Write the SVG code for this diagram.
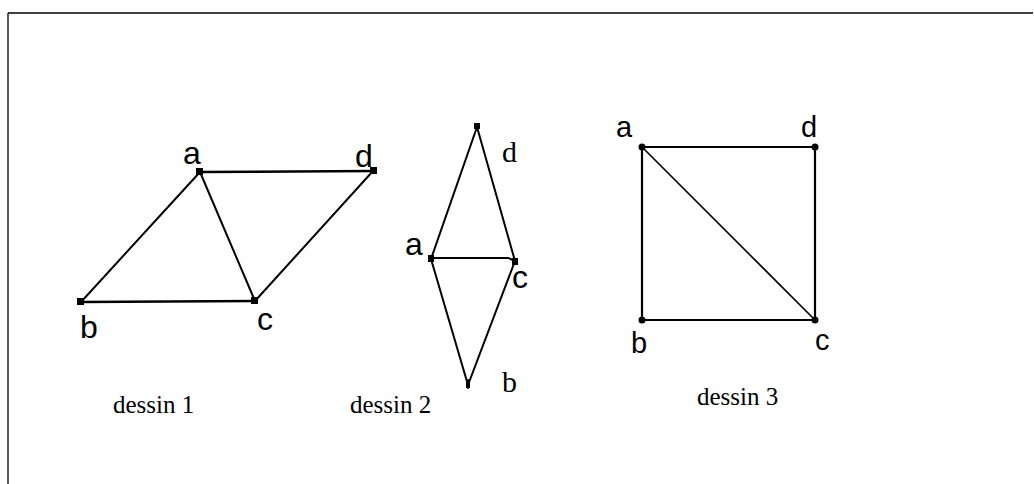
<svg xmlns="http://www.w3.org/2000/svg" width="1034" height="484" viewBox="0 0 1034 484">
<style>
.e{stroke:#000;stroke-width:2;fill:none;stroke-linecap:round}
.e3{stroke:#000;stroke-width:2.2;fill:none}
.hl{font-family:"Liberation Sans",Arial,sans-serif;font-size:32px;fill:#000}
.h3{font-family:"Liberation Sans",Arial,sans-serif;font-size:29px;fill:#000}
.sl{font-family:"Liberation Serif","Times New Roman",serif;font-size:30px;fill:#000}
.cap{font-family:"Liberation Serif","Times New Roman",serif;font-size:25px;fill:#000}
.sq{fill:#000}
</style>
<rect width="1034" height="484" fill="#fff"/>
<g id="frame" stroke="#000" stroke-width="1.3">
<line x1="8" y1="13" x2="1033" y2="13"/>
<line x1="8" y1="13" x2="8" y2="484"/>
</g>
<g id="connectors">
<line class="e" x1="200" y1="172" x2="373" y2="171" style="stroke-width:2.5"/>
<line class="e" x1="200" y1="172" x2="81" y2="302"/>
<line class="e" x1="200" y1="172" x2="255" y2="301"/>
<line class="e" x1="373" y1="171" x2="255" y2="301"/>
<line class="e" x1="81" y1="302" x2="255" y2="301" style="stroke-width:2.5"/>
<line class="e" x1="477" y1="127" x2="431" y2="259"/>
<line class="e" x1="477" y1="127" x2="515" y2="261"/>
<line class="e" x1="431" y1="259" x2="468" y2="385"/>
<line class="e" x1="515" y1="261" x2="468" y2="385"/>
<path class="e" d="M431 258 L508 258 Q512 259 515 262"/>
<line class="e" x1="468" y1="380" x2="468" y2="388"/>
<line class="e3" x1="642" y1="147" x2="815" y2="147"/>
<line class="e3" x1="642" y1="147" x2="642" y2="320"/>
<line class="e3" x1="815" y1="147" x2="815" y2="320"/>
<line class="e3" x1="642" y1="320" x2="815" y2="320"/>
<line class="e" x1="642" y1="147" x2="815" y2="320" style="stroke-width:1.6"/>
</g>
<g id="d1-a"><rect class="sq" x="196" y="168" width="7" height="7"/><text class="hl" x="183" y="164">a</text></g>
<g id="d1-d"><rect class="sq" x="370" y="167" width="7" height="7"/><text class="hl" x="355" y="167">d</text></g>
<g id="d1-b"><rect class="sq" x="77" y="298" width="7" height="7"/><text class="hl" x="80" y="338">b</text></g>
<g id="d1-c"><rect class="sq" x="251" y="297" width="7" height="7"/><text class="hl" x="257" y="330">c</text></g>
<g id="d2-d"><rect class="sq" x="474" y="123" width="6" height="6"/><text class="sl" x="502" y="162">d</text></g>
<g id="d2-a"><rect class="sq" x="428" y="255" width="6" height="7"/><text class="hl" x="405" y="255">a</text></g>
<g id="d2-c"><rect class="sq" x="512" y="258" width="6" height="7"/><text class="hl" x="512" y="288">c</text></g>
<g id="d2-b"><rect class="sq" x="466" y="382" width="4" height="6"/><text class="sl" x="502" y="392">b</text></g>
<g id="d3-a"><circle class="sq" cx="642" cy="147" r="3.5"/><text class="h3" x="616" y="137">a</text></g>
<g id="d3-d"><circle class="sq" cx="815" cy="147" r="3.5"/><text class="h3" x="801" y="137">d</text></g>
<g id="d3-b"><circle class="sq" cx="642" cy="320" r="3.5"/><text class="h3" x="631" y="353">b</text></g>
<g id="d3-c"><circle class="sq" cx="815" cy="320" r="3.5"/><text class="h3" x="815" y="350">c</text></g>
<g id="captions">
<text class="cap" x="113" y="413">dessin 1</text>
<text class="cap" x="350" y="413">dessin 2</text>
<text class="cap" x="697" y="405">dessin 3</text>
</g>
</svg>
